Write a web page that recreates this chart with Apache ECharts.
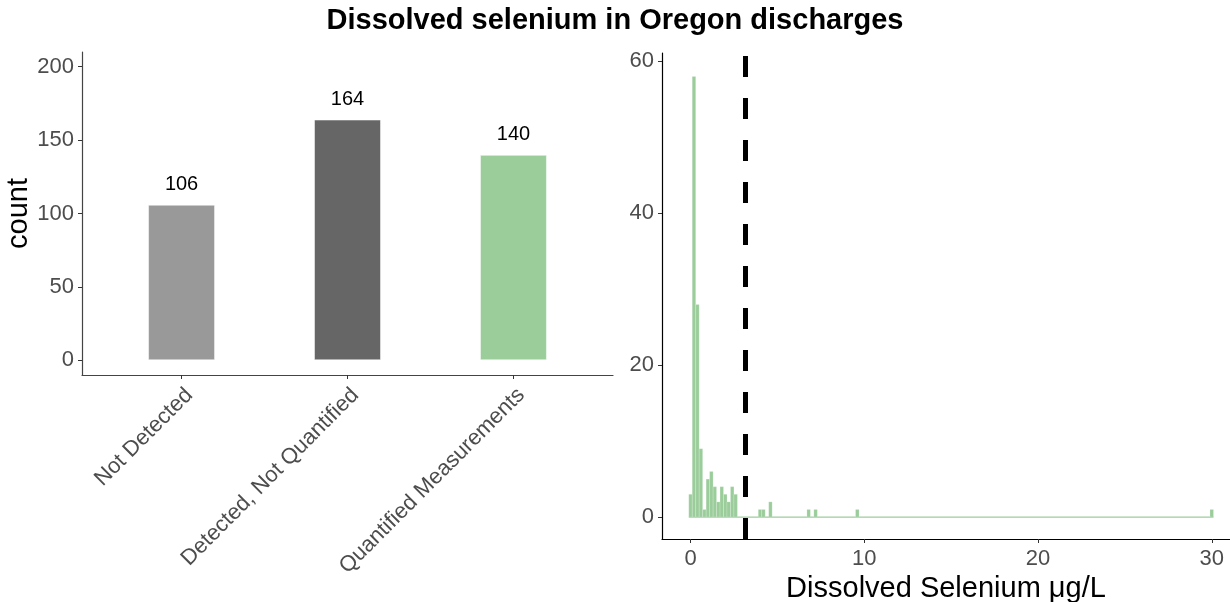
<!DOCTYPE html>
<html>
<head>
<meta charset="utf-8">
<script src="https://cdn.jsdelivr.net/npm/echarts@6/dist/echarts.min.js"></script>
<style>
  html, body { margin: 0; padding: 0; background: #fff; }
  #main { width: 1230px; height: 602px; }
</style>
</head>
<body>
<div id="main"></div>
<script>
// left panel: counts per detection status
var categories = ['Not Detected', 'Detected, Not Quantified', 'Quantified Measurements'];
var statusCounts = [106, 164, 140];
var barColors = ['#999999', '#666666', '#9BCD9B'];
var countTicks = [0, 50, 100, 150, 200];

// right panel: histogram bins (bin centre, count), bin width 0.2
var binWidth = 0.2;
var binCenters = [0, 0.2, 0.4, 0.6, 0.8, 1.0, 1.2, 1.4, 1.6, 1.8, 2.0, 2.2, 2.4, 2.6, 4.0, 4.2, 4.6, 6.8, 7.2, 9.6, 30.0];
var binCounts  = [3, 58, 28, 9, 1, 5, 6, 4, 2, 4, 3, 2, 4, 3, 1, 1, 2, 1, 1, 1, 1];
var histXTicks = [0, 10, 20, 30];
var histYTicks = [0, 20, 40, 60];
var cutoff = 3.14;   // dashed reference line

var chart = echarts.init(document.getElementById('main'));
var font = 'Liberation Sans, Arial, sans-serif';
var tickGrey = '#4d4d4d';

var barData = statusCounts.map(function (v, i) {
  return { value: [i + 1, v], itemStyle: { color: barColors[i] } };
});
var histData = binCenters.map(function (c, i) { return [c, binCounts[i]]; });

var option = {
  animation: false,
  textStyle: { fontFamily: font },
  title: {
    text: 'Dissolved selenium in Oregon discharges',
    left: 'center',
    top: 1,
    padding: [5, 0, 5, 14],
    textStyle: { fontSize: 29, fontWeight: 'bold', color: '#000', fontFamily: font }
  },
  grid: [
    { left: 82, right: 617, top: 52, bottom: 227, outerBoundsMode: 'none' },
    { left: 662, right: 0, top: 53, bottom: 63, outerBoundsMode: 'none' }
  ],
  xAxis: [{
    gridIndex: 0,
    type: 'value',
    min: 0.4, max: 3.6,
    splitLine: { show: false },
    axisLine: { onZero: false, lineStyle: { color: '#444', width: 1.2 } },
    axisTick: { customValues: [1, 2, 3], length: 4, lineStyle: { color: '#333' } },
    axisLabel: {
      customValues: [1, 2, 3],
      formatter: function (v) { return categories[Math.round(v) - 1]; },
      rotate: 45, margin: 9,
      align: 'right', verticalAlign: 'top',
      fontSize: 22, color: tickGrey, fontFamily: font
    }
  }, {
    gridIndex: 1,
    type: 'value',
    min: -1.64, max: 31.05,
    name: 'Dissolved Selenium \u03bcg/L',
    nameLocation: 'middle',
    nameGap: 25,
    nameTextStyle: { fontSize: 29, color: '#000', fontFamily: font },
    splitLine: { show: false },
    axisLine: { onZero: false, lineStyle: { color: '#000', width: 1.2 } },
    axisTick: { customValues: histXTicks, length: 4, lineStyle: { color: '#333' } },
    axisLabel: { customValues: histXTicks, margin: 9, fontSize: 22, color: tickGrey, fontFamily: font }
  }],
  yAxis: [{
    gridIndex: 0,
    type: 'value',
    min: -10, max: 210,
    name: 'count',
    nameLocation: 'middle',
    nameGap: 45,
    nameTextStyle: { fontSize: 29, color: '#000', fontFamily: font },
    splitLine: { show: false },
    axisLine: { show: true, onZero: false, lineStyle: { color: '#444', width: 1.2 } },
    axisTick: { show: true, customValues: countTicks, length: 4, lineStyle: { color: '#333' } },
    axisLabel: { customValues: countTicks, margin: 8, fontSize: 22, color: tickGrey, fontFamily: font }
  }, {
    gridIndex: 1,
    type: 'value',
    min: -2.89, max: 61.1,
    splitLine: { show: false },
    axisLine: { show: true, onZero: false, lineStyle: { color: '#000', width: 1.2 } },
    axisTick: { show: true, customValues: histYTicks, length: 4, lineStyle: { color: '#333' } },
    axisLabel: { customValues: histYTicks, margin: 8, fontSize: 22, color: tickGrey, fontFamily: font }
  }],
  series: [{
    type: 'bar',
    xAxisIndex: 0, yAxisIndex: 0,
    barWidth: 67,
    data: barData,
    itemStyle: { borderColor: 'rgba(255,255,255,0.5)', borderWidth: 1 },
    label: {
      show: true, position: 'top', distance: 10,
      formatter: function (p) { return p.value[1]; },
      fontSize: 20, color: '#000', fontFamily: font
    }
  }, {
    // baseline of the empty bins, plus the dashed cutoff
    type: 'line',
    xAxisIndex: 1, yAxisIndex: 1,
    symbol: 'none',
    data: [[binCenters[0] - binWidth / 2, 0], [binCenters[binCenters.length - 1] + binWidth / 2, 0]],
    lineStyle: { color: '#9BCD9B', width: 1.2 },
    markLine: {
      silent: true,
      symbol: 'none',
      label: { show: false },
      lineStyle: { color: '#000', width: 5, type: [21, 21] },
      data: [{ xAxis: cutoff }]
    },
    z: 1
  }, {
    type: 'custom',
    xAxisIndex: 1, yAxisIndex: 1,
    data: histData,
    renderItem: function (params, api) {
      var c = api.value(0), n = api.value(1);
      var p0 = api.coord([c - binWidth / 2, n]);
      var p1 = api.coord([c + binWidth / 2, 0]);
      return {
        type: 'rect',
        shape: { x: p0[0], y: p0[1], width: p1[0] - p0[0], height: p1[1] - p0[1] },
        style: { fill: '#9BCD9B', stroke: 'rgba(255,255,255,0.35)', lineWidth: 0.5 }
      };
    },
    z: 2
  }]
};

chart.setOption(option);
</script>
</body>
</html>
